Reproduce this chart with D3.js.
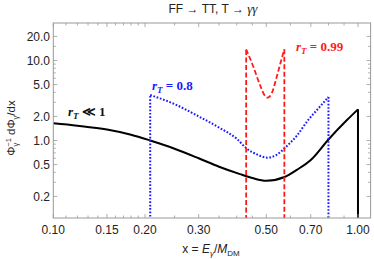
<!DOCTYPE html>
<html><head><meta charset="utf-8">
<script src="https://cdn.jsdelivr.net/npm/d3@7"></script>
<style>body{margin:0;background:#fff}svg{display:block}</style>
</head><body><svg id="c" width="374" height="259"></svg>
<script>
const xTicks = [0.10, 0.15, 0.20, 0.30, 0.50, 0.70, 1.00];
const xTickLabels = ["0.10","0.15","0.20","0.30","0.50","0.70","1.00"];
const xMinor = [0.11,0.12,0.13,0.14,0.16,0.17,0.18,0.19,0.25,0.35,0.4,0.45,0.6,0.8,0.9];
const yTicks = [0.2, 0.5, 1.0, 2.0, 5.0, 10.0, 20.0];
const yTickLabels = ["0.2","0.5","1.0","2.0","5.0","10.0","20.0"];
const yMinor = [0.3,0.4,0.6,0.7,0.8,0.9,3,4,6,7,8,9,15];

const blackX = [0.1, 0.12, 0.15, 0.18, 0.208, 0.25, 0.3, 0.35, 0.41, 0.45, 0.5, 0.574, 0.63, 0.7, 0.8, 0.92, 1.0];
const blackY = [1.64, 1.53, 1.37, 1.18, 1.0, 0.79, 0.6, 0.47, 0.38, 0.34, 0.314, 0.35, 0.43, 0.57, 1.03, 1.8, 2.45];
const blueX = [0.208, 0.25, 0.3, 0.35, 0.4, 0.43, 0.47, 0.503, 0.54, 0.574, 0.63, 0.686, 0.74, 0.8];
const blueY = [3.7, 2.85, 2.0, 1.45, 1.05, 0.8, 0.66, 0.61, 0.66, 0.8, 1.15, 1.8, 2.5, 3.5];
const redX = [0.4295, 0.4532, 0.4768, 0.4952, 0.5053, 0.521, 0.5412, 0.5621, 0.5732];
const redY = [13.8, 8.4, 4.94, 3.6, 3.43, 3.89, 6.27, 10.65, 13.8];

const svg = d3.select("#c");
const L = 53.3, R = 370.6, T = 23, B = 218;
const x = d3.scaleLog().domain([0.1, 1.1]).range([L, R]);
const y = d3.scaleLog().domain([0.1075, 29.4]).range([B, T]);

svg.append("clipPath").attr("id","clip").append("rect")
  .attr("x", L).attr("y", T).attr("width", R-L).attr("height", B-T);

const g = svg.append("g").attr("clip-path","url(#clip)");
const sans = "'Liberation Sans', Arial, Helvetica, sans-serif";
const serif = "'Liberation Serif', 'Times New Roman', serif";

function series(xs, ys, color, width, dash, dropLeft, dropRight) {
  const pts = xs.map((v,i)=>[x(v), y(ys[i])]);
  const line = d3.line().curve(d3.curveMonotoneX);
  g.append("path").attr("d", line(pts)).attr("fill","none")
    .attr("stroke", color).attr("stroke-width", width).attr("stroke-dasharray", dash);
  const straight = d3.line();
  if (dropLeft) g.append("path").attr("d", straight([[pts[0][0], B+2], pts[0]]))
    .attr("fill","none").attr("stroke", color).attr("stroke-width", width).attr("stroke-dasharray", dash);
  if (dropRight) { const p = pts[pts.length-1];
    g.append("path").attr("d", straight([p, [p[0], B+2]]))
    .attr("fill","none").attr("stroke", color).attr("stroke-width", width).attr("stroke-dasharray", dash); }
}
series(blackX, blackY, "#000", 2, null, false, true);
series(blueX, blueY, "#1a1aff", 2, "1.7,1.7", true, true);
series(redX, redY, "#ff1a1a", 1.8, "5,2.5", true, true);

// frame
svg.append("rect").attr("x", L).attr("y", T).attr("width", R-L).attr("height", B-T)
  .attr("fill","none").attr("stroke","#999").attr("stroke-width",1);

const tc = "#999";
function xt(v, len){
  svg.append("line").attr("x1",x(v)).attr("x2",x(v)).attr("y1",B).attr("y2",B-len).attr("stroke",tc).attr("stroke-width",0.8);
  svg.append("line").attr("x1",x(v)).attr("x2",x(v)).attr("y1",T).attr("y2",T+len).attr("stroke",tc).attr("stroke-width",0.8);
}
function yt(v, len){
  svg.append("line").attr("y1",y(v)).attr("y2",y(v)).attr("x1",L).attr("x2",L+len).attr("stroke",tc).attr("stroke-width",0.8);
  svg.append("line").attr("y1",y(v)).attr("y2",y(v)).attr("x1",R).attr("x2",R-len).attr("stroke",tc).attr("stroke-width",0.8);
}
xTicks.forEach(v=>xt(v,4)); xMinor.forEach(v=>xt(v,2.5));
yTicks.forEach(v=>yt(v,4)); yMinor.forEach(v=>yt(v,2.5));

xTicks.forEach((v,i)=>svg.append("text").attr("x",x(v)).attr("y",234).attr("text-anchor","middle")
  .attr("font-family",sans).attr("font-size",12).attr("fill","#222").text(xTickLabels[i]));
yTicks.forEach((v,i)=>svg.append("text").attr("x",50).attr("y",y(v)+4.2).attr("text-anchor","end")
  .attr("font-family",sans).attr("font-size",12).attr("fill","#222").text(yTickLabels[i]));

// title
const title = svg.append("text").attr("x",213).attr("y",12.5).attr("text-anchor","middle")
  .attr("font-family",sans).attr("font-size",12).attr("fill","#222");
title.append("tspan").text("FF ");
title.append("tspan").attr("font-family",serif).text("\u2192");
title.append("tspan").text(" TT, T ");
title.append("tspan").attr("font-family",serif).text("\u2192");
title.append("tspan").text(" ");
title.append("tspan").attr("font-family",serif).attr("font-style","italic").attr("font-size",13).text("\u03b3\u03b3");

// x label
const xl = svg.append("text").attr("x",211).attr("y",253).attr("text-anchor","middle")
  .attr("font-family",sans).attr("font-size",12).attr("fill","#222");
xl.append("tspan").text("x = ");
xl.append("tspan").attr("font-style","italic").text("E");
xl.append("tspan").attr("font-style","italic").attr("font-size",8).attr("dy",3).text("\u03b3");
xl.append("tspan").attr("dy",-3).text("/");
xl.append("tspan").attr("font-style","italic").text("M");
xl.append("tspan").attr("font-size",8).attr("dy",3).text("DM");

// y label
const yl = svg.append("text").attr("transform","translate(15,128) rotate(-90)").attr("text-anchor","middle")
  .attr("font-family",sans).attr("font-size",11.5).attr("fill","#222");
yl.append("tspan").text("\u03a6");
yl.append("tspan").attr("font-size",7.5).attr("dy",3).text("\u03b3");
yl.append("tspan").attr("font-size",7.5).attr("dy",-7).attr("dx",-4).text("\u22121");
yl.append("tspan").attr("dy",4).text(" d\u03a6");
yl.append("tspan").attr("font-size",7.5).attr("dy",3).text("\u03b3");
yl.append("tspan").attr("dy",-3).text("/dx");

function rlabel(px, py, color, rest){
  const t = svg.append("text").attr("x",px).attr("y",py).attr("font-family",serif)
    .attr("font-weight","bold").attr("font-size",13).attr("fill",color);
  t.append("tspan").attr("font-style","italic").text("r");
  t.append("tspan").attr("font-style","italic").attr("font-size",9).attr("dy",3).text("T");
  t.append("tspan").attr("dy",-3).text(rest);
}
rlabel(68, 116, "#111", " \u226a 1");
rlabel(152, 90, "#1a1aff", " = 0.8");
rlabel(296, 51, "#ff1a1a", " = 0.99");
</script></body></html>
